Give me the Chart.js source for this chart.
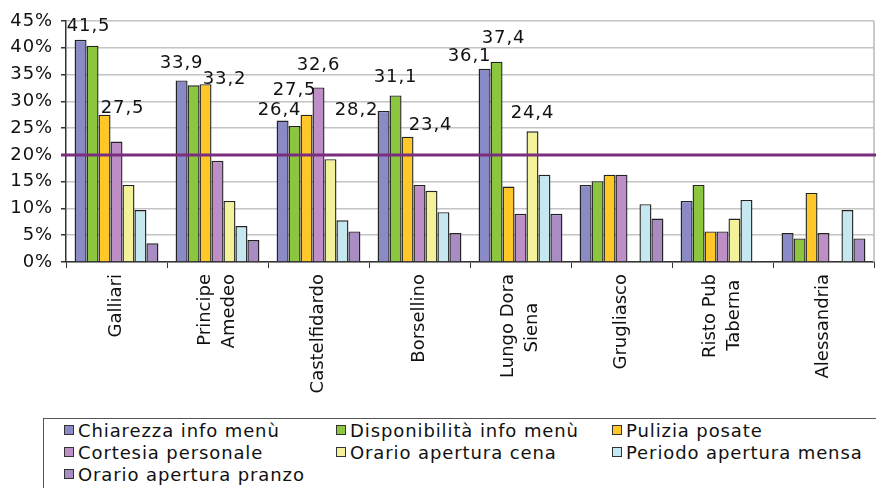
<!DOCTYPE html>
<html>
<head>
<meta charset="utf-8">
<script src="https://cdn.jsdelivr.net/npm/chart.js@4.4.1/dist/chart.umd.min.js"></script>
<style>
  html, body { margin: 0; padding: 0; background: #fff; overflow: hidden; }
  #wrap { position: relative; width: 876px; height: 488px; }
  #legenda {
    position: absolute; left: 43px; top: 418px; width: 900px; height: 100px;
    border: 1px solid #555; background: #fff; box-sizing: border-box;
    padding-left: 20px;
    display: grid; grid-template-columns: 272px 276px 276px; grid-auto-rows: 22px;
    font-family: "DejaVu Sans", Verdana, sans-serif; font-size: 18px; color: #111;
    letter-spacing: 0.9px;
  }
  #legenda .voce { display: flex; align-items: center; white-space: nowrap; }
  #legenda .quad { width: 8px; height: 8px; border: 1px solid #333; margin-right: 4px; flex: none; }
</style>
</head>
<body>
<div id="wrap">
  <canvas id="grafico" width="876" height="488"></canvas>
  <div id="legenda"></div>
</div>
<script>
// sedi
var sedi = ['Galliari', ['Principe', 'Amedeo'], 'Castelfidardo', 'Borsellino',
            ['Lungo Dora', 'Siena'], 'Grugliasco', ['Risto Pub', 'Taberna'], 'Alessandria'];

// percentuali per voce
var chiarezza     = [41.5, 33.9, 26.4, 28.2, 36.1, 14.4, 11.4, 5.4];
var disponibilita = [40.4, 33.0, 25.4, 31.1, 37.4, 15.1, 14.4, 4.4];
var pulizia       = [27.5, 33.2, 27.5, 23.4, 14.1, 16.3, 5.7, 12.9];
var cortesia      = [22.5, 18.9, 32.6, 14.4, 9.0, 16.3, 5.7, 5.4];
var orarioCena    = [14.4, 11.4, 19.2, 13.3, 24.4, null, 8.1, null];
var periodoMensa  = [9.7, 6.7, 7.8, 9.3, 16.3, 10.8, 11.6, 9.7];
var orarioPranzo  = [3.5, 4.1, 5.7, 5.4, 9.0, 8.1, null, 4.4];

var voci = ['Chiarezza info menù', 'Disponibilità info menù', 'Pulizia posate',
            'Cortesia personale', 'Orario apertura cena', 'Periodo apertura mensa',
            'Orario apertura pranzo'];

var tickY = [0, 5, 10, 15, 20, 25, 30, 35, 40, 45];
var soglia = 20;

var colori = ['#8a8ac6', '#8cc63f', '#ffc828', '#be8fc6', '#f3f29b', '#c4e7f0', '#a98cc4'];
var serie = [chiarezza, disponibilita, pulizia, cortesia, orarioCena, periodoMensa, orarioPranzo];

// etichette valore: [serie, sede, spostamento x, distanza dalla cima]
var etichette = [
  [0, 0, 8, 9], [2, 0, 18, 2],
  [0, 1, 0, 12], [2, 1, 19, 0],
  [0, 2, -3, 6], [2, 2, -12, 20], [3, 2, 0, 17],
  [0, 3, -27, -4], [1, 3, 0, 13], [2, 3, 23, 7],
  [0, 4, -15, 8], [1, 4, 7, 19], [4, 4, 0, 13]
];

var FONT = '"DejaVu Sans", Verdana, sans-serif';
var SPAZIATURA = '0.9px';

// le righe piu' corte delle etichette a capo vengono centrate con spazi
var misura = document.createElement('canvas').getContext('2d');
misura.font = '18px ' + FONT;
function centra(lbl) {
  if (!Array.isArray(lbl)) return lbl;
  var larg = lbl.map(function (r) { return misura.measureText(r).width; });
  var max = Math.max.apply(null, larg);
  var sp = misura.measureText(' ').width;
  return lbl.map(function (r, i) {
    var n = Math.round((max - larg[i]) / 2 / sp);
    return r + new Array(n + 1).join(' ');
  });
}

var datasets = serie.map(function (d, i) {
  return {
    label: voci[i], data: d, backgroundColor: colori[i],
    borderColor: '#222', borderWidth: 1.4,
    categoryPercentage: 0.83, barPercentage: 1
  };
});

// cornice grigia, linea di soglia e valori sopra le barre
var extra = {
  id: 'extra',
  afterUpdate: function (chart) {
    // etichette su due righe: blocco centrato sulla sede
    chart.scales.x.getLabelItems().forEach(function (it) {
      if (Array.isArray(it.label)) {
        it.options.translation[0] -= (it.label.length - 1) * it.font.lineHeight / 2;
      }
    });
  },
  beforeDraw: function (chart) { chart.ctx.letterSpacing = '0px'; },
  beforeDatasetsDraw: function (chart) {
    var a = chart.chartArea, c = chart.ctx;
    c.save();
    c.strokeStyle = '#b8b8b8'; c.lineWidth = 1.5;
    c.beginPath(); c.moveTo(a.right, a.top); c.lineTo(a.right, a.bottom); c.stroke();
    c.restore();
  },
  afterDatasetsDraw: function (chart) {
    var a = chart.chartArea, c = chart.ctx;
    var y = chart.scales.y.getPixelForValue(soglia);
    c.save();
    c.strokeStyle = '#7b2d7e'; c.lineWidth = 3;
    c.beginPath(); c.moveTo(a.left - 5, y); c.lineTo(876, y); c.stroke();
    c.fillStyle = '#111'; c.font = '18px ' + FONT;
    c.letterSpacing = SPAZIATURA;
    c.textAlign = 'center'; c.textBaseline = 'alphabetic';
    etichette.forEach(function (e) {
      var bar = chart.getDatasetMeta(e[0]).data[e[1]];
      var v = serie[e[0]][e[1]];
      c.fillText(v.toFixed(1).replace('.', ','), bar.x + e[2], bar.y - e[3]);
    });
    c.restore();
    // le percentuali dell'asse y (z: 1) vengono disegnate dopo, con spaziatura
    c.letterSpacing = SPAZIATURA;
  }
};

new Chart(document.getElementById('grafico'), {
  type: 'bar',
  data: { labels: sedi.map(centra), datasets: datasets },
  options: {
    responsive: false, animation: false,
    layout: { padding: { top: 21, right: 2, left: 0, bottom: 0 } },
    plugins: { legend: { display: false }, tooltip: { enabled: false } },
    scales: {
      x: {
        grid: { drawOnChartArea: false, offset: true, color: '#333', tickLength: 6 },
        border: { color: '#333', width: 1.5 },
        ticks: { minRotation: 90, maxRotation: 90, color: '#111', padding: 6,
                 font: { family: FONT, size: 18, lineHeight: 1.33 } },
        afterFit: function (s) { s.height = 226; }
      },
      y: {
        min: 0, max: 45,
        afterBuildTicks: function (s) { s.ticks = tickY.map(function (v) { return { value: v }; }); },
        grid: { color: '#c4c4c4', lineWidth: 1.5, tickColor: '#333', tickLength: 5 },
        border: { color: '#333', width: 1.5 },
        ticks: { z: 1, color: '#111', padding: 8, font: { family: FONT, size: 18 },
                 callback: function (v) { return v + '%'; } },
        afterFit: function (s) { s.width = 66; }
      }
    }
  },
  plugins: [extra]
});

// legenda a tre colonne
var leg = document.getElementById('legenda');
voci.forEach(function (t, i) {
  var d = document.createElement('div');
  d.className = 'voce';
  d.innerHTML = '<span class="quad" style="background:' + colori[i] + '"></span>' + t;
  leg.appendChild(d);
});
</script>
</body>
</html>
